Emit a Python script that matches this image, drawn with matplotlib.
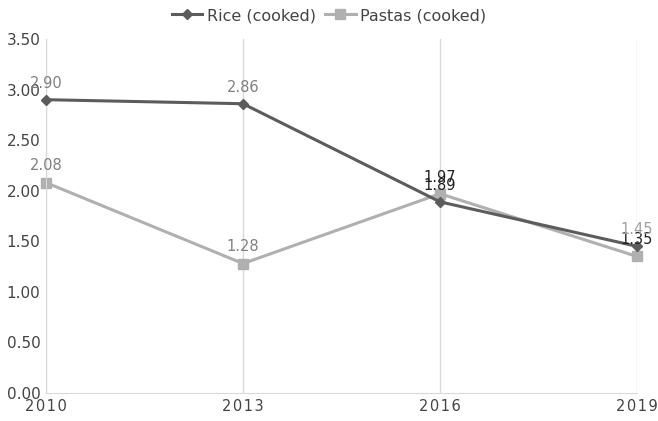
import matplotlib
matplotlib.use('Agg')
from matplotlib import pyplot as plt

years = ['2010', '2013', '2016', '2019']
rice = [2.90, 2.86, 1.89, 1.45]
pastas = [2.08, 1.28, 1.97, 1.35]
rice_label_colors = ['#808080', '#808080', '#222222', '#a0a0a0']
pasta_label_colors = ['#808080', '#808080', '#222222', '#222222']

fig = plt.figure(figsize=(6.58, 4.21), dpi=100)
ax = fig.add_axes([46 / 658, 1 - 393 / 421, (637 - 46) / 658, (393 - 39) / 421])

x = list(range(len(years)))
ax.plot(x, rice, color='#5c5c5c', lw=2.2, marker='D', ms=5, label='Rice (cooked)',
        zorder=3, clip_on=False)
ax.plot(x, pastas, color='#b0b0b0', lw=2.2, marker='s', ms=7, label='Pastas (cooked)',
        zorder=2, clip_on=False)

for i in x:
    ax.annotate('%.2f' % pastas[i], (i, pastas[i]), xytext=(0, 12), textcoords='offset points',
                ha='center', va='center', fontsize=10.5, color=pasta_label_colors[i], zorder=4)
    ax.annotate('%.2f' % rice[i], (i, rice[i]), xytext=(0, 12), textcoords='offset points',
                ha='center', va='center', fontsize=10.5, color=rice_label_colors[i], zorder=4)

ax.set_xlim(0, len(years) - 1)
ax.set_ylim(0, 3.5)
ax.set_xticks(x)
ax.set_xticklabels(['\u200a'.join(y) for y in years], fontsize=10.5, color='#444444')
ax.set_yticks([0, 0.5, 1, 1.5, 2, 2.5, 3, 3.5])
ax.set_yticklabels(['%.2f' % v for v in ax.get_yticks()], fontsize=11, color='#444444')
ax.tick_params(length=0, pad=4)
ax.tick_params(axis='y', pad=4)
ax.grid(axis='x', color='#d9d9d9', lw=1)
for s in ['top', 'right']:
    ax.spines[s].set_visible(False)
for s in ['left', 'bottom']:
    ax.spines[s].set_color('#d9d9d9')

fig.legend(loc='upper center', bbox_to_anchor=(0.5, 1.015), ncol=2, frameon=False,
           fontsize=11.5, handlelength=1.9, columnspacing=0.6, handletextpad=0.3,
           labelcolor='#444444')

fig.savefig('out.png', dpi=100)
